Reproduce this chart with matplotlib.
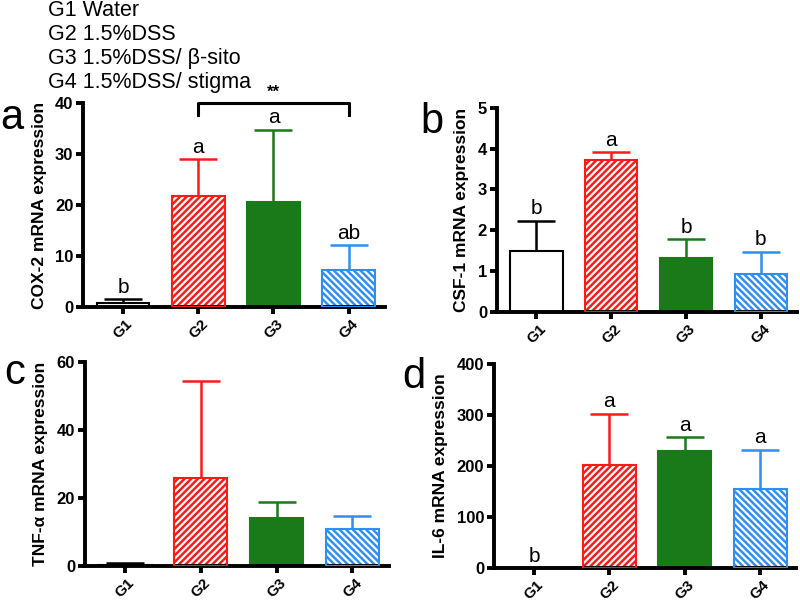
import matplotlib.pyplot as plt

plt.rcParams['font.family'] = ['Liberation Sans', 'DejaVu Sans']
plt.rcParams['hatch.linewidth'] = 1.6

groups = ["G1", "G2", "G3", "G4"]
legend_lines = ["G1 Water", "G2 1.5%DSS", "G3 1.5%DSS/ β-sito", "G4 1.5%DSS/ stigma"]

cox2 = [0.8, 21.7, 20.6, 7.3]
cox2_err = [0.7, 7.3, 14.2, 4.8]
cox2_sig = ["b", "a", "a", "ab"]

csf1 = [1.48, 3.72, 1.32, 0.92]
csf1_err = [0.75, 0.19, 0.46, 0.55]
csf1_sig = ["b", "a", "b", "b"]

tnf = [0.4, 26.0, 14.2, 10.9]
tnf_err = [0.4, 28.5, 4.6, 3.8]
tnf_sig = ["", "", "", ""]

il6 = [0.0, 203, 229, 155]
il6_err = [0.0, 100, 28, 77]
il6_sig = ["b", "a", "a", "a"]

colors = ["black", "#ff1a1a", "#1a7a1a", "#2f8ff0"]
faces = ["white", "#ff1a1a", "#1a7a1a", "#2f8ff0"]
hatches = [None, "/////", None, "\\\\\\\\\\"]

fig = plt.figure(figsize=(8, 6.03), dpi=100)


def panel(rect, vals, errs, sig, ymax, step, ylabel, letter, letter_pos):
    ax = fig.add_axes(rect)
    x = range(len(vals))
    for i in x:
        if hatches[i]:
            ax.bar(i, vals[i], width=0.7, color=faces[i], edgecolor="white",
                   hatch=hatches[i], linewidth=0, zorder=2)
            ax.bar(i, vals[i], width=0.7, fill=False, edgecolor=colors[i],
                   linewidth=1.5, zorder=3)
        else:
            ax.bar(i, vals[i], width=0.7, color=faces[i], edgecolor=colors[i],
                   linewidth=1.5, zorder=2)
        if errs[i] > 0:
            ax.errorbar(i, vals[i], yerr=[[0], [errs[i]]], color=colors[i],
                        capsize=14, elinewidth=1.8, capthick=1.8, zorder=1)
        if sig[i]:
            ax.text(i, vals[i] + errs[i] + ymax * 0.012, sig[i], ha="center",
                    va="bottom", fontsize=15)
    ax.set_xlim(-0.53, 3.48)
    ax.set_ylim(0, ymax)
    ax.set_yticks([step * k for k in range(int(ymax / step) + 1)])
    ax.set_xticks(list(x))
    ax.set_xticklabels(groups, rotation=45, fontweight="bold", fontsize=11)
    for t in ax.get_yticklabels():
        t.set_fontweight("bold")
        t.set_fontsize(12)
    ax.set_ylabel(ylabel, fontweight="bold", fontsize=12.5, labelpad=6)
    for s in ["top", "right"]:
        ax.spines[s].set_visible(False)
    for s in ["left", "bottom"]:
        ax.spines[s].set_linewidth(2.8)
    ax.tick_params(width=2.8, length=5, pad=2)
    fig.text(letter_pos[0], letter_pos[1], letter, fontsize=30, va="center")
    return ax


ax_a = panel([0.104, 0.491, 0.377, 0.338], cox2, cox2_err, cox2_sig, 40, 10,
             "COX-2 mRNA expression", "a", (0.0, 0.805))
panel([0.621, 0.483, 0.375, 0.338], csf1, csf1_err, csf1_sig, 5, 1,
      "CSF-1 mRNA expression", "b", (0.525, 0.797))
panel([0.106, 0.061, 0.38, 0.339], tnf, tnf_err, tnf_sig, 60, 20,
      "TNF-α mRNA expression", "c", (0.005, 0.382))
panel([0.6175, 0.058, 0.378, 0.338], il6, il6_err, il6_sig, 400, 100,
      "IL-6 mRNA expression", "d", (0.503, 0.375))

# significance bracket between G2 and G4
ax_a.plot([1, 1, 3, 3], [37.6, 40, 40, 37.6], color="black", lw=2.2, clip_on=False)
ax_a.text(2, 40.6, "**", ha="center", va="bottom", fontsize=12, fontweight="bold")

for k, line in enumerate(legend_lines):
    fig.text(0.06, 0.983 - k * 0.04, line, fontsize=15.5, va="center")

fig.savefig("out.png", dpi=100)
